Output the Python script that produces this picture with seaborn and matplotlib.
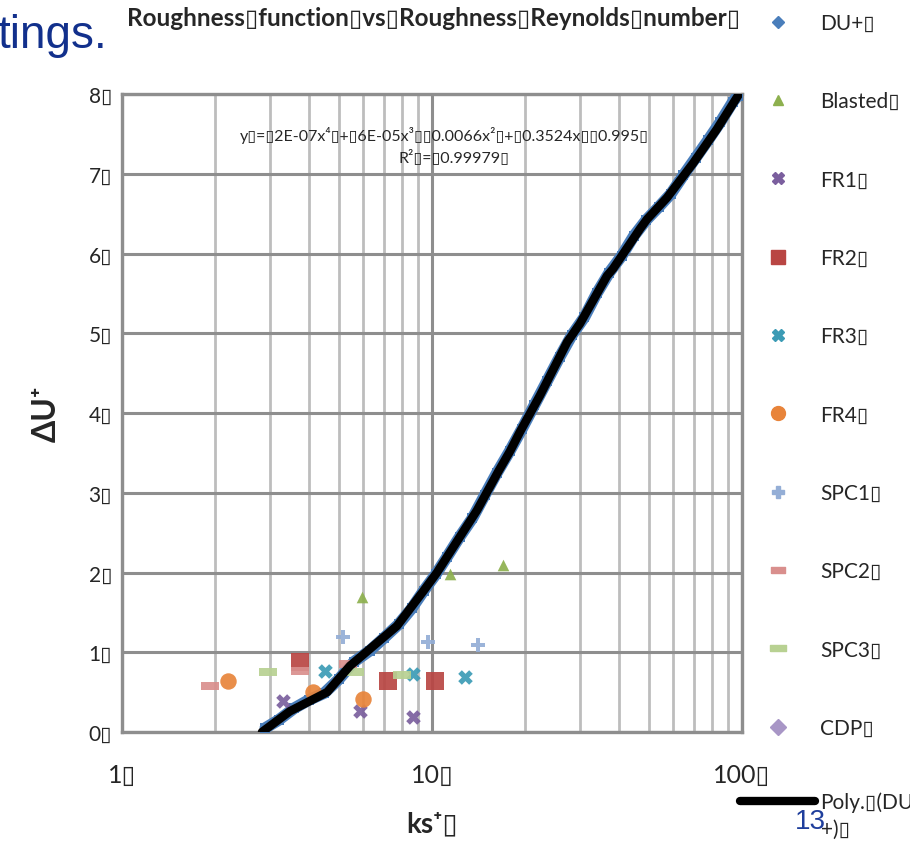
import matplotlib
matplotlib.use("Agg")
import matplotlib.pyplot as plt
import seaborn as sns
from matplotlib.lines import Line2D
from matplotlib.ticker import LogLocator, NullFormatter, FixedLocator

sns.set_theme(style="white")
plt.rcParams["font.family"] = ["Lato", "DejaVu Sans"]

B = "\u25af"  # missing-glyph box shown in the original

# ---------------- data ----------------
du_x = [2.9, 3.2, 3.6, 4.0, 4.5, 5.0, 5.6, 6.3, 7.0, 7.8, 8.6, 9.4, 10.3, 11.2, 12.3,
        13.5, 14.8, 16.2, 17.8, 19.5, 21.4, 23.5, 25.8, 28.3, 31.0, 34.0, 37.3, 40.9,
        44.8, 49.1, 53.8, 59.0, 64.7, 70.9, 77.7, 85.2, 93.4, 97.0]
du_y = [0.05, 0.15, 0.30, 0.40, 0.49, 0.66, 0.88, 1.02, 1.18, 1.35, 1.55, 1.77, 1.98,
        2.20, 2.45, 2.68, 2.97, 3.25, 3.52, 3.80, 4.10, 4.40, 4.70, 4.98, 5.20, 5.50,
        5.76, 5.97, 6.22, 6.42, 6.58, 6.75, 6.98, 7.20, 7.42, 7.65, 7.90, 7.98]

blasted_x = [5.94, 11.43, 16.9]
blasted_y = [1.69, 1.98, 2.10]

fr1_x = [3.31, 5.86, 8.69]
fr1_y = [0.39, 0.26, 0.19]

fr2_x = [3.75, 7.21, 10.2]
fr2_y = [0.88, 0.64, 0.64]

fr3_x = [4.52, 8.69, 12.8]
fr3_y = [0.77, 0.73, 0.69]

fr4_x = [2.2, 4.13, 5.99]
fr4_y = [0.64, 0.50, 0.41]

spc1_x = [5.16, 9.71, 14.1]
spc1_y = [1.19, 1.13, 1.09]

spc2_x = [1.92, 3.75, 5.36]
spc2_y = [0.58, 0.77, 0.85]

spc3_x = [2.96, 5.65, 8.0]
spc3_y = [0.75, 0.75, 0.71]

cdp_x = []
cdp_y = []

poly_x = [2.83, 3.48, 4.59, 5.44, 7.71, 9.35, 10.38, 12.6, 13.97, 16.33, 17.85, 19.2,
          22.3, 27.3, 30.0, 36.7, 38.4, 46.9, 49.4, 57.3, 69.5, 83.0, 98.6]
poly_y = [0.0, 0.26, 0.50, 0.83, 1.33, 1.76, 2.0, 2.51, 2.78, 3.26, 3.52, 3.76, 4.22,
          4.89, 5.12, 5.72, 5.81, 6.31, 6.43, 6.70, 7.13, 7.56, 8.02]

y_ticks = [0, 1, 2, 3, 4, 5, 6, 7, 8]
x_ticks = [1, 10, 100]

series_names = ["DU+", "Blasted", "FR1", "FR2", "FR3", "FR4", "SPC1", "SPC2", "SPC3", "CDP"]
poly_label_1 = f"Poly.{B}(DU"
poly_label_2 = f"+){B}"

# ---------------- styles ----------------
C_BLUE = "#4a7ebb"
C_GREEN = "#8db04e"
C_PURPLE = "#7b5f9e"
C_RED = "#b94643"
C_TEAL = "#3c9bb5"
C_ORANGE = "#e8843a"
C_LBLUE = "#94aed6"
C_PINK = "#d98f8d"
C_LGREEN = "#b8d192"
C_LAV = "#a896c6"

rect = [(-1, -0.45), (1, -0.45), (1, 0.45), (-1, 0.45), (-1, -0.45)]

fig = plt.figure(figsize=(9.1, 8.45), dpi=100)
ax = fig.add_axes([122 / 910, 1 - 733 / 845, 620 / 910, 638 / 845])

# DU+ dense band
sns.lineplot(x=du_x, y=du_y, color=C_BLUE, lw=8.4, sort=False, ax=ax, zorder=3)
sns.scatterplot(x=du_x, y=du_y, color=C_BLUE, marker="s", s=45, linewidth=0, ax=ax, zorder=3)

def sc(xs, ys, color, marker, s, lw=0, z=4):
    sns.scatterplot(x=xs, y=ys, color=color, marker=marker, s=s, linewidth=lw,
                    edgecolor=color, alpha=0.92, ax=ax, zorder=z)

sc(blasted_x, blasted_y, C_GREEN, "^", 70)
sc(fr1_x, fr1_y, C_PURPLE, "X", 110)
sc(fr2_x, fr2_y, C_RED, "s", 150)
sc(fr3_x, fr3_y, C_TEAL, "X", 110)
sc(fr4_x, fr4_y, C_ORANGE, "o", 140)
sc(spc1_x, spc1_y, C_LBLUE, "P", 110)
sc(spc2_x, spc2_y, C_PINK, rect, 160)
sc(spc3_x, spc3_y, C_LGREEN, rect, 160)
if cdp_x:
    sc(cdp_x, cdp_y, C_LAV, "D", 80)

# polynomial trend line
sns.lineplot(x=poly_x, y=poly_y, color="black", lw=6.2, sort=False, ax=ax, zorder=5)

# ---------------- axes ----------------
ax.set_xscale("log")
ax.set_xlim(1, 100)
ax.set_ylim(0, 8)
ax.xaxis.set_major_locator(FixedLocator(x_ticks))
ax.xaxis.set_minor_locator(LogLocator(base=10, subs=[2, 3, 4, 5, 6, 7, 8, 9]))
ax.xaxis.set_minor_formatter(NullFormatter())
ax.set_xticks(x_ticks)
ax.set_xticklabels([f"{t}{B}" for t in x_ticks], fontsize=18)
ax.set_yticks(y_ticks)
ax.set_yticklabels([f"{t}{B}" for t in y_ticks], fontsize=15)
ax.tick_params(axis="both", which="both", length=0)
ax.tick_params(axis="x", pad=22)
ax.tick_params(axis="y", pad=7)

ax.grid(True, which="major", axis="both", color="#8e8e8e", lw=2.2, zorder=0)
ax.grid(True, which="minor", axis="x", color="#bdbdbd", lw=2.0, zorder=0)
ax.set_axisbelow(True)
for sp in ax.spines.values():
    sp.set_color("#8e8e8e")
    sp.set_linewidth(2.4)
    sp.set_visible(True)

ax.set_xlabel(f"ks\u207a{B}", fontsize=20, fontweight="bold", labelpad=18)
ax.set_ylabel("\u0394U\u207a", fontsize=23, fontweight="bold", labelpad=20)
if ax.get_legend():
    ax.get_legend().remove()

# title
fig.text(434 / 910, 1 - 18 / 845,
         f"Roughness{B}function{B}vs{B}Roughness{B}Reynolds{B}number{B}",
         ha="center", va="center", fontsize=17.5, fontweight="bold")

# equation
ax.text(0.52, 0.937,
        f"y{B}={B}2E-07x\u2074{B}+{B}6E-05x\u00b3{B}{B}0.0066x\u00b2{B}+{B}0.3524x{B}{B}0.995{B}",
        transform=ax.transAxes, ha="center", va="center", fontsize=11.5, zorder=6)
ax.text(0.535, 0.903, f"R\u00b2{B}={B}0.99979{B}",
        transform=ax.transAxes, ha="center", va="center", fontsize=11.5, zorder=6)

# legend
handles = [
    Line2D([], [], ls="", marker="D", color=C_BLUE, ms=6),
    Line2D([], [], ls="", marker="^", color=C_GREEN, ms=7),
    Line2D([], [], ls="", marker="X", color=C_PURPLE, ms=8),
    Line2D([], [], ls="", marker="s", color=C_RED, ms=10),
    Line2D([], [], ls="", marker="X", color=C_TEAL, ms=8),
    Line2D([], [], ls="", marker="o", color=C_ORANGE, ms=10),
    Line2D([], [], ls="", marker="P", color=C_LBLUE, ms=8),
    Line2D([], [], ls="", marker=rect, color=C_PINK, ms=10),
    Line2D([], [], ls="", marker=rect, color=C_LGREEN, ms=11),
    Line2D([], [], ls="", marker="D", color=C_LAV, ms=8),
]
labels = [f"{n}{B}" for n in series_names]
fig.legend(handles, labels, loc="upper left", bbox_to_anchor=(740 / 910, 1 - 14 / 845),
           frameon=False, fontsize=15, handlelength=3.6, handletextpad=0.25,
           labelspacing=2.8, borderpad=0, borderaxespad=0)
fig.legend([Line2D([], [], ls="-", color="black", lw=6)], [poly_label_1],
           loc="center left", bbox_to_anchor=(740 / 910, 1 - 803 / 845),
           frameon=False, fontsize=15, handlelength=3.6, handletextpad=0.25,
           borderpad=0, borderaxespad=0)
fig.text(821 / 910, 1 - 830 / 845, poly_label_2, fontsize=15, ha="left", va="center")

# slide remnants
fig.text(-0.003, 1 - 36 / 845, "tings.", color="#12308c", fontsize=33,
         family=["Liberation Sans", "DejaVu Sans"], ha="left", va="center")
fig.text(795 / 910, 1 - 822 / 845, "13", color="#1f3e9c", fontsize=20,
         family=["Liberation Sans", "DejaVu Sans"], ha="left", va="center")

fig.savefig("out.png", dpi=100)
